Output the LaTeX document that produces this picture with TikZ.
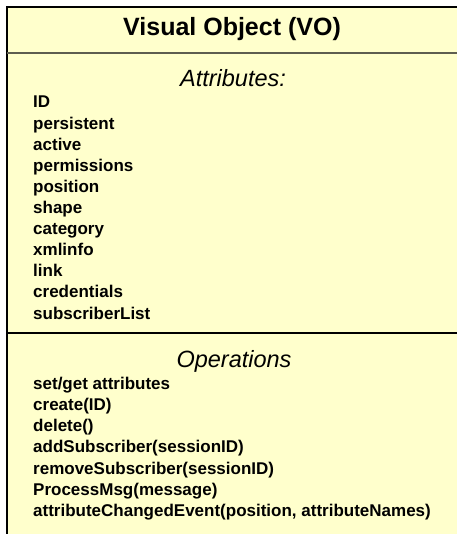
\documentclass[tikz,border=0pt]{standalone}
\usepackage{fontspec}
\setmainfont{Liberation Sans}
\definecolor{voyellow}{HTML}{FFFFCC}
\definecolor{vogray}{HTML}{5E5E50}
\begin{document}
\begin{tikzpicture}[x=1bp,y=-1bp,
  itemtext/.style={anchor=base west,inner sep=0pt,font=\fontsize{17bp}{20bp}\selectfont\bfseries},
  headtext/.style={anchor=base,inner sep=0pt,font=\fontsize{23.5bp}{26bp}\selectfont\itshape},
  titletext/.style={anchor=base,inner sep=0pt,font=\fontsize{25bp}{28bp}\selectfont\bfseries}]
\useasboundingbox (0,0) rectangle (457,534);
\clip (0,0) rectangle (457,534);
\fill[white] (0,0) rectangle (457,534);
\fill[voyellow] (7,7) rectangle (470,550);
\draw[black,line width=1.2bp] (7,550) -- (7,7) -- (470,7);
\draw[vogray,line width=2bp] (7,53) -- (470,53);
\draw[black,line width=1.2bp] (7,333) -- (470,333);
\node[titletext] (title) at (232,36) {Visual Object (VO)};
\node[headtext] (attrhead) at (233,87) {Attributes:};
\foreach \t [count=\i] in {ID,persistent,active,permissions,position,shape,category,xmlinfo,link,credentials,subscriberList}
  \node[itemtext] (attr\i) at (33,{108+(\i-1)*21.1}) {\t};
\node[headtext] (ophead) at (234,367) {Operations};
\foreach \t [count=\i] in {set/get attributes,create(ID),delete(),addSubscriber(sessionID),removeSubscriber(sessionID),ProcessMsg(message),{attributeChangedEvent(position, attributeNames)}}
  \node[itemtext] (op\i) at (33,{389+(\i-1)*21.3}) {\t};
\end{tikzpicture}
\end{document}
